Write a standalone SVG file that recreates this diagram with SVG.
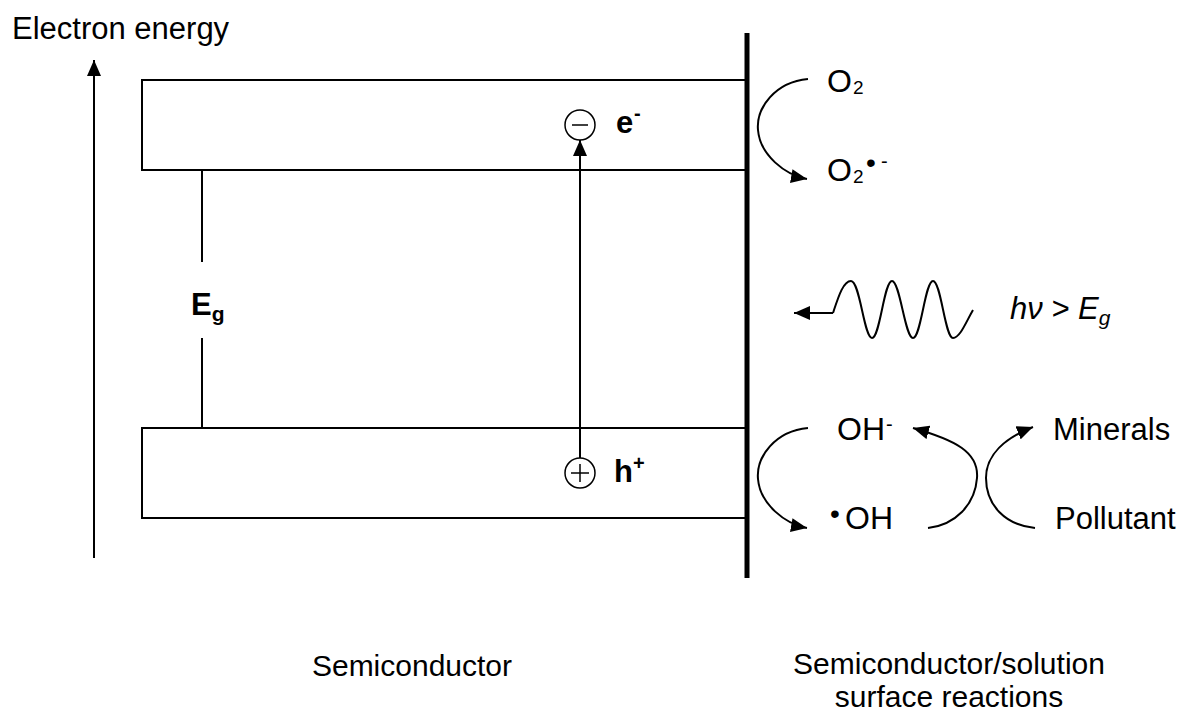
<svg xmlns="http://www.w3.org/2000/svg" width="1183" height="715" viewBox="0 0 1183 715">
<style>
text{font-family:"Liberation Sans",Arial,sans-serif;font-size:31px;fill:#000}
.b{font-weight:bold}
.i{font-style:italic}
.ch{font-size:32px}
.sub{font-size:19px}
.sup{font-size:20px}
.dot{font-size:28px}
.lbl{font-size:30px}
.ln{stroke:#000;stroke-width:2;fill:none}
.sg{stroke:#000;stroke-width:1.5;fill:none}
</style>
<defs>
<marker id="ah" markerUnits="userSpaceOnUse" markerWidth="18" markerHeight="14" refX="16" refY="7" orient="auto">
<path d="M0,0 L16,7 L0,14 Z" fill="#000"/>
</marker>
</defs>
<rect width="1183" height="715" fill="#fff"/>
<g id="energy-axis">
<line class="ln" x1="94" y1="558" x2="94" y2="60" marker-end="url(#ah)"/>
<text x="12" y="39" font-size="31.5">Electron energy</text>
</g>
<g id="conduction-band"><rect class="ln" x="142" y="80" width="605" height="90"/></g>
<g id="valence-band"><rect class="ln" x="142" y="428" width="605" height="90"/></g>
<g id="interface"><line x1="747" y1="33" x2="747" y2="578" stroke="#000" stroke-width="5"/></g>
<g id="band-gap">
<line class="ln" x1="202" y1="170" x2="202" y2="262"/>
<line class="ln" x1="202" y1="338" x2="202" y2="428"/>
<text class="b" x="191" y="315" font-size="30">E<tspan font-size="21" dy="6">g</tspan></text>
</g>
<g id="electron">
<circle class="sg" cx="580" cy="125" r="15"/>
<line class="sg" x1="572" y1="125" x2="588" y2="125"/>
<text class="b" x="616" y="133" font-size="30">e</text>
<text class="b sup" x="634" y="120">-</text>
</g>
<g id="hole">
<circle class="sg" cx="580" cy="473" r="15"/>
<line class="sg" x1="571" y1="473" x2="589" y2="473"/>
<line class="sg" x1="580" y1="464" x2="580" y2="482"/>
<text class="b" x="614" y="482">h</text>
<text class="b sup" x="633" y="470">+</text>
</g>
<g id="o2">
<text class="ch" x="827" y="92">O</text>
<text class="sub" x="853" y="94">2</text>
</g>
<g id="superoxide">
<text class="ch" x="827" y="181">O</text>
<text class="sub" x="853" y="183">2</text>
<text class="dot" x="866" y="172">•</text>
<text class="sup" x="881" y="168">-</text>
</g>
<g id="light">
<path class="ln" d="M833,313 C838,298 843,281 851,281 C860,281 864,338 872,338 C880,338 884,281 892,281 C900,281 905,338 913,338 C921,338 925,281 933,281 C941,281 945,338 953,338 C960,338 966,322 973,310"/>
<text class="i" x="1010" y="319">hν &gt; E<tspan font-size="21" dy="6">g</tspan></text>
</g>
<g id="hydroxide">
<text class="ch" x="837" y="440">OH</text>
<text class="sup" x="886" y="431">-</text>
</g>
<g id="hydroxyl-radical">
<text class="dot" x="830" y="523">•</text>
<text class="ch" x="845" y="529">OH</text>
</g>
<g id="minerals"><text x="1053" y="440">Minerals</text></g>
<g id="pollutant"><text x="1055" y="529">Pollutant</text></g>
<g id="labels">
<text class="lbl" x="412" y="676" text-anchor="middle">Semiconductor</text>
<text class="lbl" x="949" y="674" text-anchor="middle">Semiconductor/solution</text>
<text class="lbl" x="949" y="707" text-anchor="middle">surface reactions</text>
</g>
<g id="connectors">
<line class="ln" x1="580" y1="458" x2="580" y2="140" marker-end="url(#ah)"/>
<path class="ln" d="M833,313 H794" marker-end="url(#ah)"/>
<path class="ln" d="M808,79 C775,82 756,108 758,130 C760,155 785,175 807,179" marker-end="url(#ah)"/>
<path class="ln" d="M808,428 C775,431 756,457 758,479 C760,504 785,524 807,528" marker-end="url(#ah)"/>
<path class="ln" d="M928,528 C955,525 975,505 977,478 C979,452 955,440 913,428" marker-end="url(#ah)"/>
<path class="ln" d="M1035,528 C1005,525 986,505 986,478 C986,455 1005,438 1033,427" marker-end="url(#ah)"/>
</g>
</svg>
